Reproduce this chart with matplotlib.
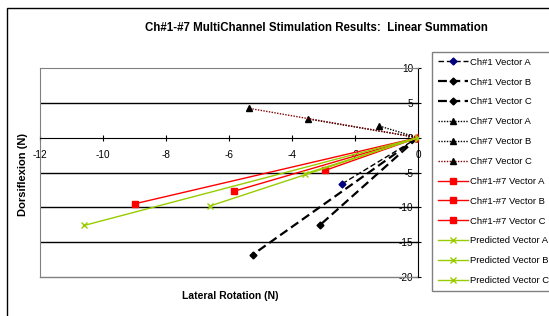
import matplotlib
matplotlib.use('Agg')
import matplotlib.pyplot as plt
from matplotlib.patches import Rectangle

plt.rcParams['font.family'] = ['Liberation Sans', 'DejaVu Sans']
plt.rcParams['axes.unicode_minus'] = False

# each vector goes from the origin to its end point
labels = ['Ch#1 Vector A', 'Ch#1 Vector B', 'Ch#1 Vector C',
          'Ch#7 Vector A', 'Ch#7 Vector B', 'Ch#7 Vector C',
          'Ch#1-#7 Vector A', 'Ch#1-#7 Vector B', 'Ch#1-#7 Vector C',
          'Predicted Vector A', 'Predicted Vector B', 'Predicted Vector C']
end_x = [-2.4, -3.1, -5.25,
         -1.25, -3.5, -5.35,
         -2.95, -5.85, -9.0,
         -3.6, -6.6, -10.6]
end_y = [-6.6, -12.5, -16.8,
         1.7, 2.7, 4.2,
         -4.7, -7.7, -9.5,
         -5.2, -9.8, -12.6]

green = '#99CC00'
styles = [
    dict(color='black', ls=(0, (4, 2)), lw=1.0, marker='D', ms=3.5, mfc='#000080', mec='#000080'),
    dict(color='black', ls=(0, (4, 2)), lw=1.6, marker='D', ms=3.5, mfc='black', mec='black'),
    dict(color='black', ls=(0, (4, 2)), lw=1.6, marker='D', ms=3.5, mfc='black', mec='black'),
    dict(color='black', ls=(0, (1, 1)), lw=1.0, marker='^', ms=4.5, mfc='black', mec='black'),
    dict(color='black', ls=(0, (1, 1)), lw=1.0, marker='^', ms=4.5, mfc='black', mec='black'),
    dict(color='#800000', ls=(0, (1, 1)), lw=1.0, marker='^', ms=4.5, mfc='black', mec='black'),
    dict(color='red', ls='-', lw=1.0, marker='s', ms=4.5, mfc='red', mec='red'),
    dict(color='red', ls='-', lw=1.0, marker='s', ms=4.5, mfc='red', mec='red'),
    dict(color='red', ls='-', lw=1.0, marker='s', ms=4.5, mfc='red', mec='red'),
    dict(color=green, ls='-', lw=1.0, marker='x', ms=4.5, mec=green),
    dict(color=green, ls='-', lw=1.0, marker='x', ms=4.5, mec=green),
    dict(color=green, ls='-', lw=1.0, marker='x', ms=4.5, mec=green),
]

W, H = 549, 316
fig = plt.figure(figsize=(W / 100, H / 100), dpi=100)
ax = fig.add_axes([40 / W, 1 - 277 / H, 378 / W, 209 / H])

# outer chart frame (cut off at the right and bottom)
fig.patches.append(Rectangle((7 / W, -0.1), 1.2, 1 - 8 / H + 0.1, transform=fig.transFigure,
                             fill=False, ec='black', lw=1.0))

for y in [5, -5, -10, -15]:
    ax.axhline(y, color='black', lw=1.0, zorder=1)

for i in range(len(labels)):
    ax.plot([0, end_x[i]], [0, end_y[i]], label=labels[i], zorder=3, **styles[i])

ax.set_xlim(-12, 0)
ax.set_ylim(-20, 10)
ax.set_xticks(range(-12, 1, 2))
ax.set_yticks(range(-20, 11, 5))

for s in ['left', 'top']:
    ax.spines[s].set_color('#808080')
ax.spines['bottom'].set_position(('data', 0))
ax.spines['bottom'].set_color('black')
ax.spines['right'].set_color('black')
ax.axhline(-20, color='#808080', lw=1.0, zorder=2, clip_on=False)

ax.tick_params(axis='x', direction='inout', length=4, labelsize=7.2, pad=7)
ax.tick_params(axis='y', left=False, labelleft=False, right=True, labelright=True,
               direction='inout', length=5, labelsize=7.2, pad=-6)
for t in ax.get_yticklabels():
    t.set_horizontalalignment('right')

fig.text(316 / W, 1 - 28 / H, 'Ch#1-#7 MultiChannel Stimulation Results:  Linear Summation',
         ha='center', va='center', fontsize=8.3, fontweight='bold')
fig.text(23 / W, 1 - 175 / H, 'Dorsiflexion (N)', rotation=90, ha='center', va='center',
         fontsize=8, fontweight='bold')
fig.text(230 / W, 1 - 296 / H, 'Lateral Rotation (N)', ha='center', va='center',
         fontsize=7.5, fontweight='bold')

leg = fig.legend(loc='upper left', bbox_to_anchor=(432 / W, 1 - 52 / H), borderaxespad=0,
                 fontsize=6.8, handlelength=3.2, handletextpad=0.2, labelspacing=1.15,
                 borderpad=0.6, numpoints=1, fancybox=False, framealpha=1)
leg.get_frame().set_edgecolor('#808080')

fig.savefig('out.png', dpi=100)
